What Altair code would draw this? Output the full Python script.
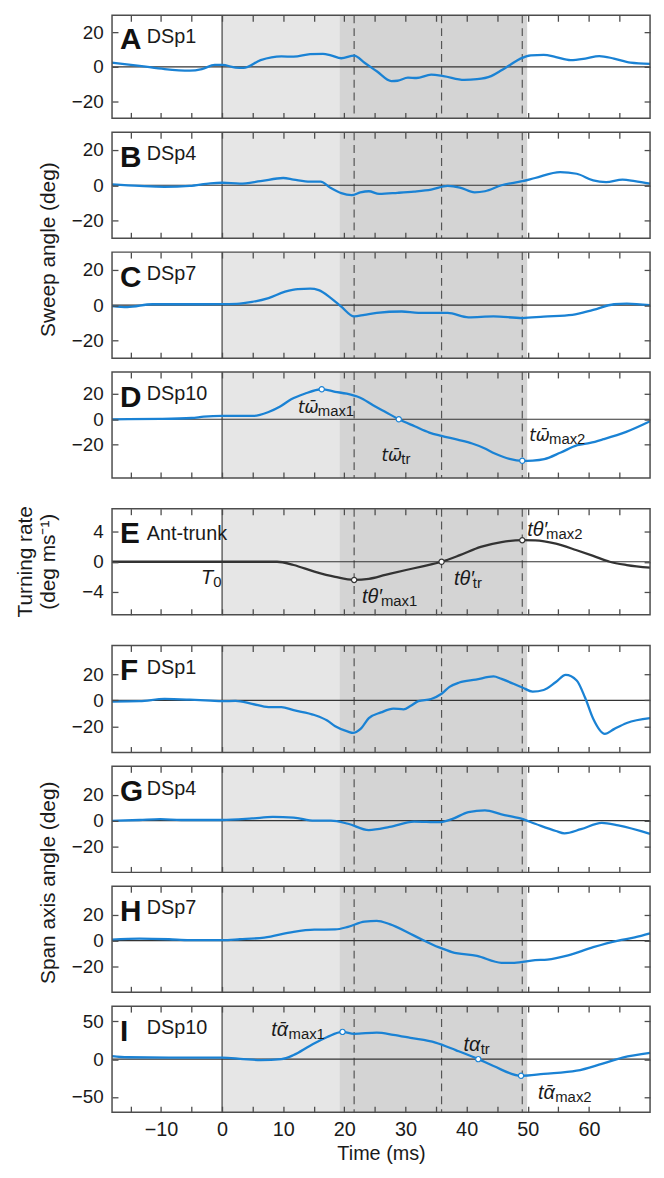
import altair as alt
import pandas as pd

# ---------------- data ----------------
A_t = [-18, -13.5, -9.4, -5.3, -3.3, -1.2, 0, 2.2, 3.5, 6.3, 9.7, 11.7, 14.4, 16.5, 17.8, 19.5, 21.6, 23.3, 25.3, 27.7,
       28.7, 30.4, 31.8, 34.2, 36.2, 39.6, 41.7, 44.0, 45.7, 47.1, 48.8, 50.5, 52.6, 54.6, 57.0, 59.4, 61.7, 64.1, 66.8, 70]
A_v = [2.4, 0.6, -1.3, -2.2, -1.3, 1.1, 1.1, -0.4, -0.6, 3.9, 6.1, 5.9, 7.4, 7.6, 6.7, 5.0, 6.5, 2.4, -2.6, -8.3,
       -8.1, -6.3, -6.5, -4.6, -5.4, -7.6, -7.2, -5.4, -2.0, 1.1, 4.8, 6.7, 7.0, 5.7, 3.9, 4.8, 6.3, 4.8, 2.4, 1.7]

B_t = [-18, -13.5, -9.4, -5.3, -1.9, 0, 2.9, 6.3, 10.0, 11.7, 14.4, 16.1, 17.8, 19.5, 21.2, 22.6, 24.0, 25.7, 28.7, 31.4,
       34.2, 36.9, 38.9, 41.3, 43.0, 45.7, 49.1, 51.2, 55.3, 58.0, 60.7, 62.8, 65.5, 67.5, 70]
B_v = [0.5, -0.4, -0.9, -0.4, 1.1, 1.4, 0.9, 2.3, 4.1, 3.2, 2.0, 2.0, -1.6, -4.5, -5.6, -4.1, -3.4, -4.9, -4.3, -3.6,
       -2.5, -0.4, -1.3, -4.0, -3.4, 0.0, 2.3, 4.1, 7.4, 6.5, 2.7, 1.8, 3.2, 2.3, 0.9]

C_t = [-18, -15.5, -11.4, -7.4, -3.3, 0, 2.9, 4.9, 7.6, 10.3, 12.4, 14.4, 15.8, 17.8, 19.5, 21.6, 23.3, 25.3, 29.4, 32.1,
       36.9, 40.3, 44.4, 49.1, 52.6, 57.3, 60.7, 64.1, 66.2, 70]
C_v = [-0.5, -1.1, 0.5, 0.5, 0.5, 0.6, 0.9, 1.8, 4.0, 7.6, 9.1, 9.3, 8.5, 4.0, -0.9, -6.4, -5.5, -4.4, -3.6, -4.4,
       -4.4, -6.9, -6.4, -7.3, -6.5, -5.5, -2.7, 0.5, 0.9, 0.0]

D_t = [-18, -10, -5, -3, 0, 5.1, 7.6, 9.5, 11.3, 13.5, 16.3, 18.5, 20.4, 22.5, 24.7, 26.8, 28.9, 31.5, 33.9, 35.9,
       38.5, 40.9, 42.8, 44.6, 47.0, 49.1, 50.8, 52.7, 55.4, 58.1, 60.2, 62.4, 66.1, 70]
D_v = [0, 0.3, 1.0, 2.0, 2.6, 2.6, 5.7, 10, 15.6, 20, 23.5, 21.5, 20, 17, 11, 5.5, 0, -5.5, -10.4, -13,
       -16, -19, -22.5, -26.8, -31, -32.5, -32.3, -31.2, -26, -20.3, -18.5, -15.6, -9.9, -1.6]

E_t = [-18, 0, 9, 11.7, 15.1, 18.5, 21.6, 24.0, 26.7, 30.1, 32.8, 35.9, 38.9, 42.3, 45.7, 49.1, 51.2, 54.6, 58.0, 60.7,
       63.4, 66.2, 70]
E_v = [0, 0, 0, -0.43, -1.3, -2.0, -2.4, -2.26, -1.74, -1.09, -0.6, 0, 0.87, 1.96, 2.6, 2.85, 2.83, 2.4, 1.52, 0.78,
       0, -0.43, -0.78]

F_t = [-18, -13.5, -9.4, -5.3, -1.9, 0, 2.2, 4.9, 7.6, 9.7, 11.7, 15.1, 17.2, 18.5, 20.6, 21.4, 22.6, 24.0, 26.0, 28.0,
       29.7, 30.8, 32.1, 34.2, 35.9, 37.2, 38.8, 41.5, 44.4, 45.7, 49.1, 50.8, 52.6, 54.6, 56.2, 58.0, 59.4, 60.7, 62.6,
       64.1, 66.2, 70]
F_v = [-1.0, -0.7, 1.0, 0.5, -0.2, -0.7, -0.5, -2.7, -5.2, -5.2, -7.6, -11.3, -15.5, -19.9, -24.0, -25.0, -22.1, -13.7,
       -9.3, -6.4, -6.9, -4.4, -0.7, 1.0, 5.0, 10.3, 13.6, 15.8, 18.3, 16.4, 9.8, 6.7, 7.9, 14.0, 19.5, 15.2, 1.7, -14.2,
       -25.8, -22.1, -17.4, -13.7]

G_t = [-18, -13.5, -10.1, -6.7, 0, 4.9, 8.3, 11.7, 15.1, 17.8, 20.6, 24.0, 27.4, 31.4, 35.5, 37.6, 40.3, 43.0, 45.7, 48.8,
       51.2, 54.6, 56.0, 58.7, 62.1, 64.8, 70]
G_v = [-0.2, 0.5, 1.2, 0.5, 0.5, 1.7, 2.9, 2.4, 0, 0, -2.4, -7.3, -4.9, -0.7, -1.2, 1.2, 6.6, 8.0, 4.9, 1.7,
       -2.4, -8.0, -9.8, -6.6, -1.7, -3.7, -10.2]

H_t = [-18, -13.5, -8.7, -5.3, 0, 2.9, 6.9, 11.7, 15.1, 18.5, 20.6, 23.3, 25.3, 27.4, 31.4, 35.5, 37.6, 41.7, 45.7, 47.8,
       51.2, 53.2, 56.6, 60.7, 64.8, 67.5, 70]
H_v = [0.8, 1.5, 1.0, 0.3, 0.3, 1.0, 2.3, 6.8, 8.4, 8.6, 10.6, 14.7, 15.2, 12.7, 3.8, -5.3, -8.9, -11.9, -17.2, -17.2,
       -15.2, -14.7, -11.4, -5.1, 0, 2.5, 5.6]

I_t = [-18, -15.5, -8.7, 0, 3.5, 6.3, 9.7, 11.7, 14.4, 17.2, 19.7, 21.6, 25.3, 28.0, 30.8, 34.9, 38.3, 41.9, 44.4, 48.9,
       52.6, 58.0, 62.1, 65.5, 70]
I_v = [4.1, 2.5, 2.1, 2.1, 0, -1.2, 0, 5.4, 17.8, 29.3, 36, 33.5, 35.1, 32.2, 28.1, 21.9, 11.6, 0, -9.1, -22,
       -19.5, -15.3, -6.2, 2.1, 8.3]

# event markers
D_ev_t = [16.3, 28.9, 49.1]
D_ev_v = [23.5, 0, -32.5]
E_ev_t = [21.6, 35.9, 49.1]
E_ev_v = [-2.4, 0, 2.85]
I_ev_t = [19.7, 41.9, 48.9]
I_ev_v = [36, 0, -22]

D_lab_main = ["t\u03c9\u0304", "t\u03c9\u0304", "t\u03c9\u0304"]
E_lab_main = ["t\u03b8\u2032", "t\u03b8\u2032", "t\u03b8\u2032"]
I_lab_main = ["t\u1fb1", "t\u03b1", "t\u1fb1"]
LAB_SUB = ["max1", "tr", "max2"]
T0_main = "T"
T0_sub = "0"

letters = ["A", "B", "C", "D", "E", "F", "G", "H", "I"]
names = ["DSp1", "DSp4", "DSp7", "DSp10", "Ant-trunk", "DSp1", "DSp4", "DSp7", "DSp10"]

X_DOMAIN = [-18, 70]
X_TICKS = [-15, -10, -5, 0, 5, 10, 15, 20, 25, 30, 35, 40, 45, 50, 55, 60, 65]
SHADE_START = [0, 19.2]
SHADE_END = [19.2, 49.9]
SHADE_KEY = ["pre", "post"]
EVENT_LINES = [21.6, 35.9, 49.1]

# ---------------- styling ----------------
W = 543
TS = 6
FONT = "Liberation Sans"
OMEGA_FONT = "DejaVu Sans"
BLUE = "#1a82d4"
DARKCURVE = "#333333"
FRAME = "#4d4d4d"
TXT = "#1a1a1a"
SHADE_COLORS = ["#e6e6e6", "#d4d4d4"]


def panel(idx, t, v, ydom, yticks, h, color=BLUE, ev=None, labels=None,
          bottom_labels=False, ytitle=None, ytx=0, yty=0, name_y=28.5, letter_y=35):
    xs = alt.Scale(domain=X_DOMAIN, nice=False, zero=False)
    ys = alt.Scale(domain=ydom, nice=False, zero=False)
    df = pd.DataFrame({"t": t, "v": v})

    shade = alt.Chart(pd.DataFrame({"s": SHADE_START, "e": SHADE_END, "k": SHADE_KEY})).mark_rect(
        strokeWidth=0).encode(
        x=alt.X("s:Q", scale=xs, axis=None), x2="e:Q",
        y=alt.value(0), y2=alt.value(h),
        color=alt.Color("k:N", scale=alt.Scale(domain=SHADE_KEY, range=SHADE_COLORS), legend=None))
    vz = alt.Chart(pd.DataFrame({"t": [0]})).mark_rule(color=FRAME, strokeWidth=1.3).encode(
        x=alt.X("t:Q", scale=xs, axis=None))
    dl = alt.Chart(pd.DataFrame({"t": EVENT_LINES})).mark_rule(
        color="#555555", strokeWidth=1.2, strokeDash=[8, 5]).encode(x=alt.X("t:Q", scale=xs, axis=None))
    hz = alt.Chart(pd.DataFrame({"v": [0]})).mark_rule(color="#333333", strokeWidth=1.2).encode(
        y=alt.Y("v:Q", scale=ys, axis=None))

    bx = dict(orient="bottom", values=X_TICKS, tickSize=TS, offset=-TS, domain=False, grid=False,
              tickColor=FRAME, tickWidth=1.3, zindex=1, labels=bottom_labels, title=None)
    if bottom_labels:
        bx.update(labelExpr="datum.value % 10 === 0 ? datum.label : ''", labelFontSize=20,
                  labelColor=TXT, labelPadding=8, title="Time (ms)", titleFontSize=20,
                  titleFontWeight="normal", titlePadding=4, titleColor=TXT)
    ly = dict(orient="left", values=yticks, tickSize=TS, offset=-TS, domain=False, grid=False,
              tickColor=FRAME, tickWidth=1.3, zindex=1, labelFontSize=19, labelPadding=9,
              labelColor=TXT, title=None)
    if ytitle:
        ly.update(title=ytitle, titleFontSize=21, titleFontWeight="normal", titleX=ytx, titleY=yty,
                  titleBaseline="middle", titleAlign="center", titleColor=TXT, titleLineHeight=23)

    curve = alt.Chart(df).mark_line(color=color, strokeWidth=2.3, interpolate="monotone").encode(
        x=alt.X("t:Q", scale=xs, axis=alt.Axis(**bx)),
        y=alt.Y("v:Q", scale=ys, axis=alt.Axis(**ly)))

    tx = dict(orient="top", values=X_TICKS, tickSize=TS, offset=-TS, domain=False, grid=False,
              labels=False, tickColor=FRAME, tickWidth=1.3, zindex=1, title=None)
    ry = dict(orient="right", values=yticks, tickSize=TS, offset=-TS, domain=False, grid=False,
              labels=False, tickColor=FRAME, tickWidth=1.3, zindex=1, title=None)
    axes2 = alt.Chart(df).mark_line(strokeOpacity=0).encode(
        x=alt.X("t:Q", scale=xs, axis=alt.Axis(**tx)),
        y=alt.Y("v:Q", scale=ys, axis=alt.Axis(**ry)))

    layers = [shade, vz, dl, hz, curve]

    if ev is not None:
        ev_df = pd.DataFrame({"t": ev[0], "v": ev[1]})
        pts = alt.Chart(ev_df).mark_circle(fill="white", stroke=color, strokeWidth=1.2, size=28,
                                           opacity=1).encode(
            x=alt.X("t:Q", scale=xs, axis=None), y=alt.Y("v:Q", scale=ys, axis=None))
        layers.append(pts)
    if labels is not None:
        for (lt_, lv_, main, sub, dx, dy, wmain, mfont, msize) in labels:
            ldf = pd.DataFrame({"t": [lt_], "v": [lv_], "m": [main], "s": [sub]})
            layers.append(alt.Chart(ldf).mark_text(
                align="left", baseline="alphabetic", dx=dx, dy=dy, fontSize=msize, fontStyle="italic",
                color=TXT, font=mfont).encode(
                x=alt.X("t:Q", scale=xs, axis=None), y=alt.Y("v:Q", scale=ys, axis=None), text="m:N"))
            layers.append(alt.Chart(ldf).mark_text(
                align="left", baseline="alphabetic", dx=dx + wmain, dy=dy + 3, fontSize=15,
                color=TXT, font=FONT).encode(
                x=alt.X("t:Q", scale=xs, axis=None), y=alt.Y("v:Q", scale=ys, axis=None), text="s:N"))

    lt = alt.Chart(pd.DataFrame({"s": [letters[idx]]})).mark_text(
        align="left", baseline="alphabetic", fontSize=30, fontWeight="bold", color="#111111",
        font=FONT).encode(x=alt.value(8), y=alt.value(letter_y), text="s:N")
    nm = alt.Chart(pd.DataFrame({"s": [names[idx]]})).mark_text(
        align="left", baseline="alphabetic", fontSize=20, color=TXT, font=FONT).encode(
        x=alt.value(35), y=alt.value(name_y), text="s:N")
    frame = alt.Chart(pd.DataFrame({"z": [0]})).mark_rect(
        fill="transparent", stroke=FRAME, strokeWidth=1.5).encode(
        x=alt.value(0), x2=alt.value(W), y=alt.value(0), y2=alt.value(h))

    layers += [lt, nm, axes2, frame]
    return alt.layer(*layers).resolve_axis(x="independent", y="independent").properties(width=W, height=h)


def spacer(h):
    return alt.Chart(pd.DataFrame({"z": [0]})).mark_point(opacity=0).encode(
        x=alt.value(0), y=alt.value(0)).properties(width=W, height=h)


SWEEP = [-30, 30]
SPAN = [-40, 42]
T20 = [-20, 0, 20]

pA = panel(0, A_t, A_v, SWEEP, T20, 104, letter_y=34, name_y=28)
pB = panel(1, B_t, B_v, SWEEP, T20, 107, ytitle="Sweep angle (deg)", ytx=-70, yty=118)
pC = panel(2, C_t, C_v, SWEEP, T20, 107)
pD = panel(3, D_t, D_v, [-46, 37], T20, 107, ev=(D_ev_t, D_ev_v), labels=[
    (D_ev_t[0], D_ev_v[0], D_lab_main[0], LAB_SUB[0], -24, 24, 20, OMEGA_FONT, 17),
    (D_ev_t[1], D_ev_v[1], D_lab_main[1], LAB_SUB[1], -17.5, 42, 20, OMEGA_FONT, 17),
    (D_ev_t[2], D_ev_v[2], D_lab_main[2], LAB_SUB[2], 7, -20, 20, OMEGA_FONT, 17),
])
pE = panel(4, E_t, E_v, [-7, 7], [-4, 0, 4], 107, color=DARKCURVE, ev=(E_ev_t, E_ev_v), labels=[
    (E_ev_t[0], E_ev_v[0], E_lab_main[0], LAB_SUB[0], 8, 23, 19, FONT, 20),
    (E_ev_t[1], E_ev_v[1], E_lab_main[1], LAB_SUB[1], 12.5, 23, 19, FONT, 20),
    (E_ev_t[2], E_ev_v[2], E_lab_main[2], LAB_SUB[2], 5, -4, 19, FONT, 20),
    (0, 0, T0_main, T0_sub, -21.3, 22.6, 12.5, FONT, 20),
], ytitle=["Turning rate", "(deg ms\u207b\u00b9)"], ytx=-93, yty=53, name_y=32)
pF = panel(5, F_t, F_v, SPAN, T20, 108)
pG = panel(6, G_t, G_v, SPAN, T20, 107, ytitle="Span axis angle (deg)", ytx=-70, yty=117)
pH = panel(7, H_t, H_v, SPAN, T20, 107)
pI = panel(8, I_t, I_v, [-70, 70], [-50, 0, 50], 107, ev=(I_ev_t, I_ev_v), labels=[
    (I_ev_t[0], I_ev_v[0], I_lab_main[0], LAB_SUB[0], -72, 4, 17.5, FONT, 20),
    (I_ev_t[1], I_ev_v[1], I_lab_main[1], LAB_SUB[1], -15, -8, 17.5, FONT, 20),
    (I_ev_t[2], I_ev_v[2], I_lab_main[2], LAB_SUB[2], 17, 23, 17.5, FONT, 20),
], bottom_labels=True)

chart = alt.vconcat(pA, pB, pC, pD, spacer(3), pE, spacer(3), pF, pG, pH, pI,
                    spacing=14, bounds="flush").resolve_scale(
    x="independent", y="independent", color="independent").properties(
    padding={"left": 6, "top": 0, "right": 0, "bottom": 0}).configure(
    font=FONT).configure_view(stroke="transparent").configure_axis(labelFont=FONT, titleFont=FONT)

chart.save("out.html", embed_options={"renderer": "svg", "actions": False})
